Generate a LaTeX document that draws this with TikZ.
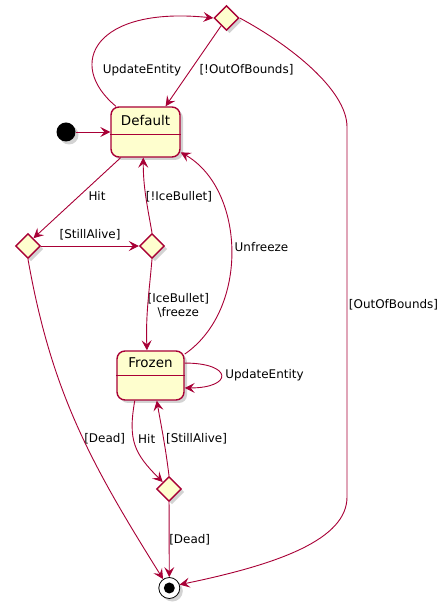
\documentclass[tikz,border=0pt]{standalone}
\usepackage{fontspec}
\setmainfont{DejaVu Sans}
\usepackage{tikz}
\usetikzlibrary{shapes.geometric,shadows,arrows.meta}

\definecolor{umlred}{HTML}{A80036}
\definecolor{umlfill}{HTML}{FEFECE}

\tikzset{
    shade/.style={drop shadow={opacity=0.35, shadow xshift=3bp, shadow yshift=-3bp}},
    state/.style={rectangle, rounded corners=8bp, draw=umlred, fill=umlfill, line width=1.4bp,
        inner sep=0pt, font=\fontsize{13.5}{16}\selectfont, shade},
    choice/.style={diamond, draw=umlred, fill=umlfill, line width=1.4bp, inner sep=0pt,
        minimum width=25bp, minimum height=25bp, shade},
    trans/.style={draw=umlred, line width=0.9bp, -{Stealth[length=10bp, width=10bp, inset=4bp]}},
    lbl/.style={inner sep=0pt, font=\fontsize{12}{15}\selectfont}
}

\begin{document}
\begin{tikzpicture}[x=1bp, y=1bp]
        \useasboundingbox (0,0) rectangle (447,609);

        \node[circle, fill=black, minimum size=19bp, inner sep=0pt, shade] (init) at (66,477) {};
        \node[state, minimum width=69bp, minimum height=50bp, text height=19bp, text depth=31bp] (default) at (145.5,477) {Default};
        \node[state, minimum width=67bp, minimum height=49bp, text height=17bp, text depth=32bp] (frozen) at (150.5,233.5) {Frozen};
        \draw[umlred, line width=1.4bp] ([yshift=-28bp]default.north west) -- ([yshift=-28bp]default.north east);
        \draw[umlred, line width=1.4bp] ([yshift=-25bp]frozen.north west) -- ([yshift=-25bp]frozen.north east);

        \node[choice] (choicebounds) at (226.5,591) {};
        \node[choice] (choicehit) at (28,363) {};
        \node[choice] (choiceice) at (152,363) {};
        \node[choice] (choicefrozen) at (169,120) {};

        \node[circle, draw=black, fill=white, minimum size=21bp, inner sep=0pt, line width=0.8bp, shade,
            path picture={\fill[black] (path picture bounding box.center) circle (5.5bp);}] (final) at (169.3,21) {};

        % labels
        \node[lbl] (lupdate) at (142,539) {UpdateEntity};
        \node[lbl] (lnotbounds) at (246.5,539) {[!OutOfBounds]};
        \node[lbl] (lbounds) at (393.5,304) {[OutOfBounds]};
        \node[lbl] (lhit) at (97,413) {Hit};
        \node[lbl] (lalive) at (90,374) {[StillAlive]};
        \node[lbl] (lnotice) at (179,412) {[!IceBullet]};
        \node[lbl, align=center] (lice) at (178.3,303.5) {[IceBullet]\\\textbackslash freeze};
        \node[lbl] (lunfreeze) at (261.5,362) {Unfreeze};
        \node[lbl] (lupdatefrozen) at (264.5,234) {UpdateEntity};
        \node[lbl] (lhitfrozen) at (146.7,170) {Hit};
        \node[lbl] (lalivefrozen) at (196.5,170) {[StillAlive]};
        \node[lbl] (ldead) at (104.7,170) {[Dead]};
        \node[lbl] (ldeadfrozen) at (189.7,69) {[Dead]};

        \begin{scope}[every edge/.style={trans}]
            \path (init) edge (default);
            \path (choicebounds) edge (default.52);
            \path (default.-134) edge (choicehit.55);
            \path (choicehit) edge (choiceice);
            \path (choiceice.north) edge[out=100, in=-90] (default.-95);
            \path (choiceice.south) edge[out=-95, in=92] (frozen.98);
            \path (frozen.20) edge[out=0, in=0, looseness=5] (frozen.-20);
            \path (frozen.-122) edge[out=-100, in=135, looseness=1.2] (choicefrozen.132);
            \path (choicefrozen.north) edge[out=97, in=-80] (frozen.-76);
            \path (choicehit.south) edge[out=-80, in=122] (final.125);
            \path (choicefrozen) edge (final);
        \end{scope}

        \draw[trans] (default.139) .. controls (65,545) and (95,603) .. (choicebounds.west);
        \draw[trans] (choicebounds.east) .. controls (290,564) and (347,519) .. (347,482) -- (347,112)
            .. controls (347,70) and (280,45) .. (final.18);
        \draw[trans] (frozen.32) .. controls (250,300) and (245,420) .. (default.-30);
    \end{tikzpicture}
\end{document}
